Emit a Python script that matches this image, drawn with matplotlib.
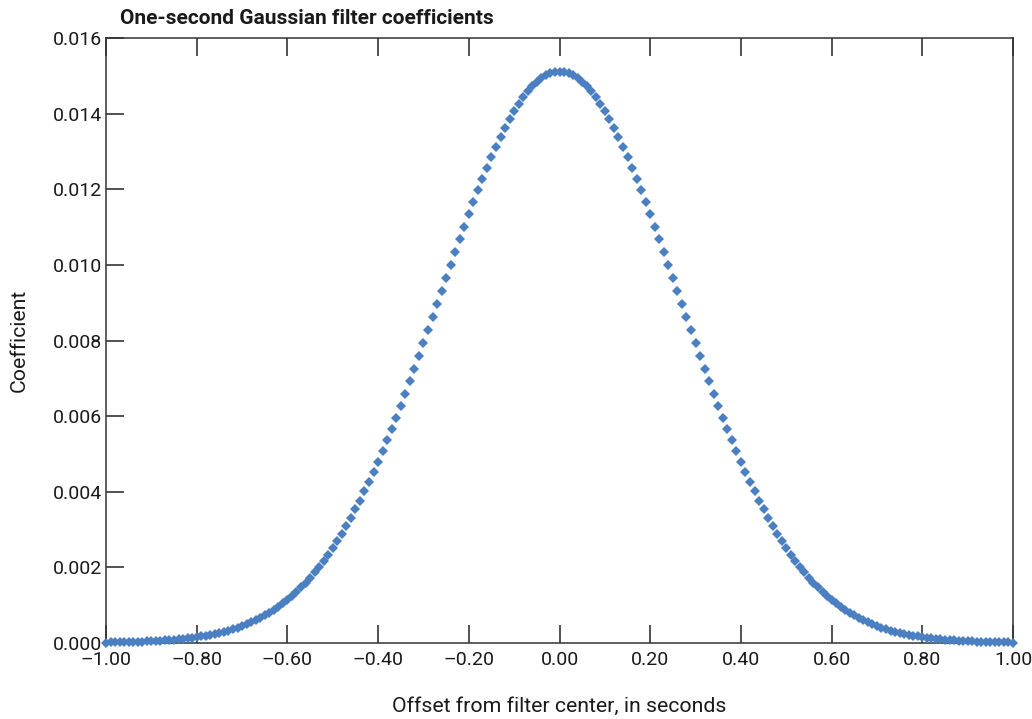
import matplotlib
matplotlib.use("Agg")
import matplotlib.pyplot as plt
from matplotlib.ticker import FuncFormatter, MultipleLocator

# Offsets from filter center, in seconds
offset_s = [
    -1.00, -0.99, -0.98, -0.97, -0.96, -0.95, -0.94, -0.93, -0.92, -0.91,
    -0.90, -0.89, -0.88, -0.87, -0.86, -0.85, -0.84, -0.83, -0.82, -0.81,
    -0.80, -0.79, -0.78, -0.77, -0.76, -0.75, -0.74, -0.73, -0.72, -0.71,
    -0.70, -0.69, -0.68, -0.67, -0.66, -0.65, -0.64, -0.63, -0.62, -0.61,
    -0.60, -0.59, -0.58, -0.57, -0.56, -0.55, -0.54, -0.53, -0.52, -0.51,
    -0.50, -0.49, -0.48, -0.47, -0.46, -0.45, -0.44, -0.43, -0.42, -0.41,
    -0.40, -0.39, -0.38, -0.37, -0.36, -0.35, -0.34, -0.33, -0.32, -0.31,
    -0.30, -0.29, -0.28, -0.27, -0.26, -0.25, -0.24, -0.23, -0.22, -0.21,
    -0.20, -0.19, -0.18, -0.17, -0.16, -0.15, -0.14, -0.13, -0.12, -0.11,
    -0.10, -0.09, -0.08, -0.07, -0.06, -0.05, -0.04, -0.03, -0.02, -0.01,
    0.00,
    0.01, 0.02, 0.03, 0.04, 0.05, 0.06, 0.07, 0.08, 0.09, 0.10,
    0.11, 0.12, 0.13, 0.14, 0.15, 0.16, 0.17, 0.18, 0.19, 0.20,
    0.21, 0.22, 0.23, 0.24, 0.25, 0.26, 0.27, 0.28, 0.29, 0.30,
    0.31, 0.32, 0.33, 0.34, 0.35, 0.36, 0.37, 0.38, 0.39, 0.40,
    0.41, 0.42, 0.43, 0.44, 0.45, 0.46, 0.47, 0.48, 0.49, 0.50,
    0.51, 0.52, 0.53, 0.54, 0.55, 0.56, 0.57, 0.58, 0.59, 0.60,
    0.61, 0.62, 0.63, 0.64, 0.65, 0.66, 0.67, 0.68, 0.69, 0.70,
    0.71, 0.72, 0.73, 0.74, 0.75, 0.76, 0.77, 0.78, 0.79, 0.80,
    0.81, 0.82, 0.83, 0.84, 0.85, 0.86, 0.87, 0.88, 0.89, 0.90,
    0.91, 0.92, 0.93, 0.94, 0.95, 0.96, 0.97, 0.98, 0.99, 1.00,
]

# Filter coefficients
coefficient = [
    0.0000116, 0.0000134, 0.0000154, 0.0000177, 0.0000203, 0.0000233, 0.0000267, 0.0000305, 0.0000348, 0.0000397,
    0.0000453, 0.0000515, 0.0000584, 0.0000662, 0.0000750, 0.0000848, 0.0000957, 0.000108, 0.000121, 0.000137,
    0.000153, 0.000172, 0.000192, 0.000215, 0.000240, 0.000267, 0.000297, 0.000330, 0.000367, 0.000406,
    0.000449, 0.000497, 0.000548, 0.000604, 0.000664, 0.000729, 0.000800, 0.000876, 0.000959, 0.001047,
    0.001142, 0.001244, 0.001353, 0.001469, 0.001593, 0.001725, 0.001865, 0.002014, 0.002172, 0.002338,
    0.002514, 0.002699, 0.002894, 0.003098, 0.003311, 0.003535, 0.003768, 0.004010, 0.004263, 0.004524,
    0.004795, 0.005074, 0.005362, 0.005659, 0.005963, 0.006275, 0.006593, 0.006918, 0.007248, 0.007583,
    0.007922, 0.008265, 0.008610, 0.008956, 0.009303, 0.009650, 0.009995, 0.010338, 0.010677, 0.011012,
    0.011341, 0.011662, 0.011976, 0.012281, 0.012575, 0.012858, 0.013128, 0.013385, 0.013627, 0.013854,
    0.014064, 0.014257, 0.014432, 0.014588, 0.014725, 0.014841, 0.014938, 0.015013, 0.015067, 0.015099,
    0.015110,
    0.015099, 0.015067, 0.015013, 0.014938, 0.014841, 0.014725, 0.014588, 0.014432, 0.014257, 0.014064,
    0.013854, 0.013627, 0.013385, 0.013128, 0.012858, 0.012575, 0.012281, 0.011976, 0.011662, 0.011341,
    0.011012, 0.010677, 0.010338, 0.009995, 0.009650, 0.009303, 0.008956, 0.008610, 0.008265, 0.007922,
    0.007583, 0.007248, 0.006918, 0.006593, 0.006275, 0.005963, 0.005659, 0.005362, 0.005074, 0.004795,
    0.004524, 0.004263, 0.004010, 0.003768, 0.003535, 0.003311, 0.003098, 0.002894, 0.002699, 0.002514,
    0.002338, 0.002172, 0.002014, 0.001865, 0.001725, 0.001593, 0.001469, 0.001353, 0.001244, 0.001142,
    0.001047, 0.000959, 0.000876, 0.000800, 0.000729, 0.000664, 0.000604, 0.000548, 0.000497, 0.000449,
    0.000406, 0.000367, 0.000330, 0.000297, 0.000267, 0.000240, 0.000215, 0.000192, 0.000172, 0.000153,
    0.000137, 0.000121, 0.000108, 0.0000957, 0.0000848, 0.0000750, 0.0000662, 0.0000584, 0.0000515, 0.0000453,
    0.0000397, 0.0000348, 0.0000305, 0.0000267, 0.0000233, 0.0000203, 0.0000177, 0.0000154, 0.0000134, 0.0000116,
]

title = "One-second Gaussian filter coefficients"
x_label = "Offset from filter center, in seconds"
y_label = "Coefficient"

plt.rcParams['font.family'] = ['Roboto', 'DejaVu Sans']

fig = plt.figure(figsize=(10.32, 7.19), dpi=100)
ax = fig.add_axes([106 / 1032, 1 - 643 / 719, (1013 - 106) / 1032, (643 - 38) / 719])

ax.plot(offset_s, coefficient, linestyle='none', marker='D', markersize=4.9,
        markeredgewidth=0, color='#4a7fc1', clip_on=False, zorder=3)

ax.set_xlim(-1.0, 1.0)
ax.set_ylim(0.0, 0.016)
ax.xaxis.set_major_locator(MultipleLocator(0.2))
ax.yaxis.set_major_locator(MultipleLocator(0.002))

def xfmt(v, pos):
    s = f"{v:.2f}"
    if s == "-0.00":
        s = "0.00"
    return s.replace("-", "\u2013")

ax.xaxis.set_major_formatter(FuncFormatter(xfmt))
ax.yaxis.set_major_formatter(FuncFormatter(lambda v, p: f"{v:.3f}"))

ax.tick_params(axis='both', which='major', direction='in', length=13, width=1.1,
               color='#222222', labelsize=14, labelcolor='#1a1a1a')
ax.tick_params(axis='x', top=True, labeltop=False, pad=5.5)
ax.tick_params(axis='y', right=False, pad=3)

for side, sp in ax.spines.items():
    sp.set_color('#333333')
    sp.set_linewidth(1.1)

ax.set_xlabel(x_label, fontsize=15.3, color='#1a1a1a', labelpad=20)
ax.set_ylabel(y_label, fontsize=15.3, color='#1a1a1a', labelpad=17)

fig.text(120 / 1032, 1 - 18 / 719, title, fontsize=15, fontweight='bold',
         color='#1a1a1a', ha='left', va='center')

fig.savefig("out.png", dpi=100)
